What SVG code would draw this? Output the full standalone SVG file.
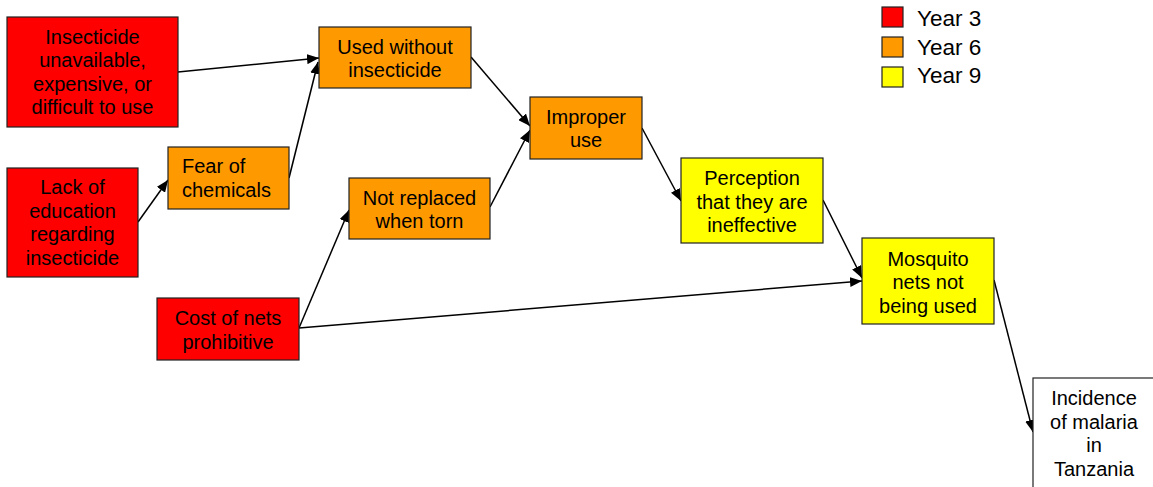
<svg xmlns="http://www.w3.org/2000/svg" width="1153" height="487" viewBox="0 0 1153 487">
  <style>
    .box { stroke: #222; stroke-width: 1.2; }
    .y3 { fill: #FF0000; }
    .y6 { fill: #FF9900; }
    .y9 { fill: #FFFF00; }
    .plain { fill: #FFFFFF; }
    text { font-family: "Liberation Sans", Arial, sans-serif; font-size: 20px; fill: #000; }
    .c { text-anchor: middle; }
    .legend { font-size: 22.5px; }
    .edge { stroke: #000; stroke-width: 1.5; fill: none; marker-end: url(#arrow); }
  </style>
  <defs>
    <marker id="arrow" markerUnits="userSpaceOnUse" markerWidth="12" markerHeight="10" refX="12" refY="5" orient="auto">
      <path d="M0,0 L12,5 L0,10 z" fill="#000"/>
    </marker>
  </defs>

  <rect width="1153" height="487" fill="#FFFFFF"/>

  <!-- connectors -->
  <g id="connectors">
    <line class="edge" x1="178" y1="72" x2="319" y2="58"/>
    <line class="edge" x1="289" y1="178" x2="318" y2="62"/>
    <line class="edge" x1="138" y1="222" x2="168" y2="180"/>
    <line class="edge" x1="471" y1="57" x2="530" y2="126"/>
    <line class="edge" x1="490" y1="207" x2="530" y2="130"/>
    <line class="edge" x1="642" y1="128" x2="681" y2="201"/>
    <line class="edge" x1="823" y1="200" x2="862" y2="278"/>
    <line class="edge" x1="299" y1="328" x2="862" y2="281"/>
    <line class="edge" x1="299" y1="328" x2="349" y2="210"/>
    <line class="edge" x1="994" y1="280" x2="1033" y2="432"/>
  </g>

  <!-- Year 3 causes -->
  <g id="insecticide-unavailable">
    <rect class="box y3" x="7" y="17" width="171" height="110"/>
    <text class="c" x="92.5" y="43.5">Insecticide</text>
    <text class="c" x="92.5" y="67">unavailable,</text>
    <text class="c" x="92.5" y="90.5">expensive, or</text>
    <text class="c" x="92.5" y="114">difficult to use</text>
  </g>

  <g id="lack-of-education">
    <rect class="box y3" x="7" y="168" width="131" height="109"/>
    <text class="c" x="72.5" y="194">Lack of</text>
    <text class="c" x="72.5" y="217.5">education</text>
    <text class="c" x="72.5" y="241">regarding</text>
    <text class="c" x="72.5" y="264.5">insecticide</text>
  </g>

  <g id="cost-of-nets">
    <rect class="box y3" x="157" y="298" width="142" height="62"/>
    <text class="c" x="228" y="325">Cost of nets</text>
    <text class="c" x="228" y="348.5">prohibitive</text>
  </g>

  <!-- Year 6 effects -->
  <g id="fear-of-chemicals">
    <rect class="box y6" x="168" y="147" width="121" height="62"/>
    <text x="182" y="173">Fear of</text>
    <text x="182" y="196.5">chemicals</text>
  </g>

  <g id="used-without-insecticide">
    <rect class="box y6" x="319" y="27" width="152" height="61"/>
    <text class="c" x="395" y="53.5">Used without</text>
    <text class="c" x="395" y="77">insecticide</text>
  </g>

  <g id="not-replaced">
    <rect class="box y6" x="349" y="178" width="141" height="61"/>
    <text class="c" x="419.5" y="204.5">Not replaced</text>
    <text class="c" x="419.5" y="228">when torn</text>
  </g>

  <g id="improper-use">
    <rect class="box y6" x="530" y="97" width="112" height="62"/>
    <text class="c" x="586" y="123.5">Improper</text>
    <text class="c" x="586" y="147">use</text>
  </g>

  <!-- Year 9 effects -->
  <g id="perception-ineffective">
    <rect class="box y9" x="681" y="158" width="142" height="85"/>
    <text class="c" x="752" y="185">Perception</text>
    <text class="c" x="752" y="208.5">that they are</text>
    <text class="c" x="752" y="232">ineffective</text>
  </g>

  <g id="nets-not-used">
    <rect class="box y9" x="862" y="238" width="132" height="86"/>
    <text class="c" x="928" y="265.5">Mosquito</text>
    <text class="c" x="928" y="289">nets not</text>
    <text class="c" x="928" y="312.5">being used</text>
  </g>

  <!-- outcome -->
  <g id="malaria-incidence">
    <rect class="box plain" x="1033" y="378" width="130" height="120"/>
    <text class="c" x="1094" y="405">Incidence</text>
    <text class="c" x="1094" y="428.5">of malaria</text>
    <text class="c" x="1094" y="452">in</text>
    <text class="c" x="1094" y="475.5">Tanzania</text>
  </g>

  <!-- legend -->
  <g id="legend">
    <rect class="box y3" x="882" y="7" width="21" height="20"/>
    <text class="legend" x="917" y="26">Year 3</text>
    <rect class="box y6" x="882" y="37" width="21" height="20"/>
    <text class="legend" x="917" y="54.5">Year 6</text>
    <rect class="box y9" x="882" y="67" width="21" height="20"/>
    <text class="legend" x="917" y="83">Year 9</text>
  </g>
</svg>
